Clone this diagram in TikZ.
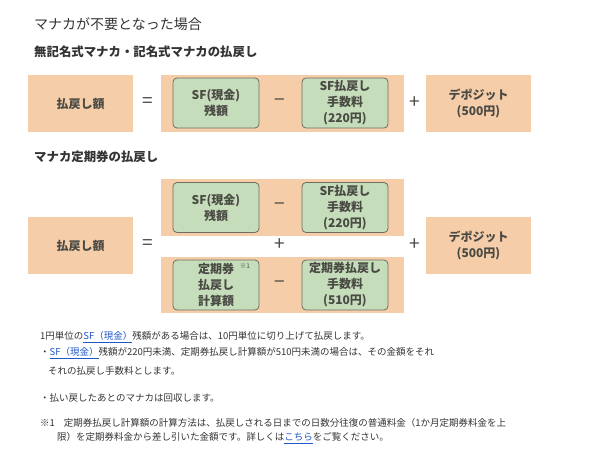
\documentclass[tikz,border=0pt]{standalone}
\usepackage{fontspec}
\setmainfont{Noto Sans CJK JP}
\usepackage{xcolor}
\usetikzlibrary{positioning}
\definecolor{peach}{HTML}{F6CDA9}
\definecolor{mint}{HTML}{C5DDBA}
\definecolor{mintline}{HTML}{6E6E5E}
\definecolor{ink}{HTML}{333333}
\definecolor{boxink}{HTML}{4A4A44}
\definecolor{linkblue}{HTML}{1E56C8}
\newcommand{\lnk}[1]{\textcolor{linkblue}{\underline{#1}}}

\begin{document}
\begin{tikzpicture}[x=1pt, y=-1pt,
    peachbox/.style={fill=peach, inner sep=0pt, minimum height=57pt,
      font=\fontsize{12}{16}\selectfont\bfseries, text=boxink, align=center},
    mintbox/.style={fill=mint, draw=mintline, line width=0.8pt, rounded corners=4pt,
      minimum width=86pt, minimum height=50pt, inner sep=0pt,
      font=\fontsize{12}{16}\selectfont\bfseries, text=boxink, align=center},
    opsign/.style={font=\fontsize{19}{19}\selectfont, text=boxink, inner sep=0pt},
    heading/.style={anchor=west, inner sep=0pt, text=ink},
    note/.style={anchor=west, inner sep=0pt, text=ink, font=\fontsize{9.5}{11}\selectfont}]

    \useasboundingbox (0,0) rectangle (593,460);

    % --- Headings ---
    \node[heading, font=\fontsize{14}{14}\selectfont] (title) at (34,24) {マナカが不要となった場合};
    \node[heading, font=\fontsize{12.4}{12}\selectfont\bfseries] (caseA) at (34,52) {無記名式マナカ・記名式マナカの払戻し};
    \node[heading, font=\fontsize{12.4}{12}\selectfont\bfseries] (caseB) at (34,157) {マナカ定期券の払戻し};

    % --- Row 1: plain manaca ---
    \node[peachbox, minimum width=105pt] (refundA) at (80.5,103.5) {払戻し額};
    \node[opsign] (eqA) at (148,103) {=};
    \node[peachbox, minimum width=243pt] (bandA) at (282.5,103.5) {};
    \node[mintbox] (sfA) at (216,103) {SF(現金)\\残額};
    \node[opsign] (minA) at (280,103) {−};
    \node[mintbox] (feeA) at (345,103) {SF払戻し\\手数料\\(220円)};
    \node[opsign] (plusA) at (415,103) {+};
    \node[peachbox, minimum width=105pt] (depA) at (478.5,103.5) {デポジット\\(500円)};

    % --- Row 2: commuter pass ---
    \node[peachbox, minimum width=105pt] (refundB) at (80.5,245.5) {払戻し額};
    \node[opsign] (eqB) at (148,245) {=};
    % upper band
    \node[peachbox, minimum width=243pt] (bandB) at (282.5,207.5) {};
    \node[mintbox] (sfB) at (216,207.5) {SF(現金)\\残額};
    \node[opsign] (minB) at (280,207) {−};
    \node[mintbox] (feeB) at (345,207.5) {SF払戻し\\手数料\\(220円)};
    \node[opsign] (plusB) at (280,245) {+};
    % lower band
    \node[peachbox, minimum width=243pt, minimum height=56pt] (bandC) at (282.5,285) {};
    \node[mintbox, align=left] (calcC) at (216,285) {定期券\\払戻し\\計算額};
    \node[inner sep=0pt, text=boxink, font=\fontsize{6.5}{7}\selectfont] (markC) at (245,266) {※1};
    \node[opsign] (minC) at (280,285) {−};
    \node[mintbox] (feeC) at (345,285) {定期券払戻し\\手数料\\(510円)};
    \node[opsign] (plusC) at (415,245) {+};
    \node[peachbox, minimum width=105pt] (depB) at (478.5,245.5) {デポジット\\(500円)};

    % --- Notes ---
    \node[note] (noteA) at (40,337) {1円単位の\lnk{SF（現金）}残額がある場合は、10円単位に切り上げて払戻します。};
    \node[note] (noteB) at (40,353) {・\lnk{SF（現金）}残額が220円未満、定期券払戻し計算額が510円未満の場合は、その金額をそれ};
    \node[note] (noteC) at (48,371) {それの払戻し手数料とします。};
    \node[note] (noteD) at (40,398) {・払い戻したあとのマナカは回収します。};
    \node[note] (noteE) at (40,423) {※1\hspace{9pt}定期券払戻し計算額の計算方法は、払戻しされる日までの日数分往復の普通料金（1か月定期券料金を上};
    \node[note] (noteF) at (57,438) {限）を定期券料金から差し引いた金額です。詳しくは\lnk{こちら}をご覧ください。};

\end{tikzpicture}
\end{document}
